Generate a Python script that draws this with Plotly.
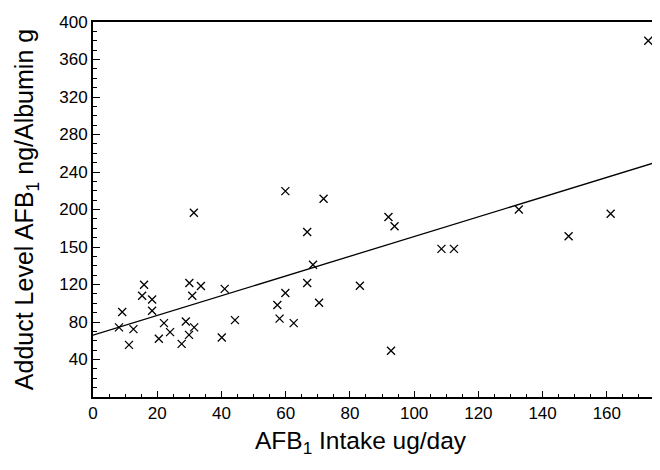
import plotly.graph_objects as go

# AFB1 intake (ug/day) and adduct level (ng/Albumin g)
intake = [8.1, 9.1, 11.2, 12.6, 15.3, 15.9, 18.4, 18.4, 20.5, 22.1,
          24.0, 27.6, 28.9, 29.9, 30.0, 30.9, 31.5, 31.4, 33.6, 40.1,
          41.0, 44.2, 57.4, 58.1, 59.9, 59.9, 62.5, 66.7, 66.7, 68.5,
          70.4, 71.8, 83.1, 92.0, 92.8, 93.9, 108.5, 112.4, 132.6, 148.1,
          161.2, 172.9]
adduct = [74.3, 90.6, 55.6, 72.4, 108, 119.8, 104, 92, 62.2, 78.8,
          69.2, 56.7, 80.5, 66.3, 121.6, 108, 74.3, 196.5, 118.4, 63.4,
          115.3, 82, 98.2, 83.6, 110.9, 219.6, 78.8, 121.6, 176, 141,
          100.5, 211.5, 118.7, 192, 49.4, 182.1, 158, 158, 200, 171.4,
          195.4, 380]

# regression line end points
fit_x = [0, 175]
fit_y = [66, 250]

# tick labels as printed on the original (note "150" at the 160 position)
y_label_alias = {"0": "", "160": "150"}

FONT = "Liberation Sans, Arial, Helvetica, sans-serif"

fig = go.Figure()
fig.add_trace(go.Scatter(
    x=fit_x, y=fit_y, mode="lines",
    line=dict(color="black", width=1.3), showlegend=False, hoverinfo="skip"))
fig.add_trace(go.Scatter(
    x=intake, y=adduct, mode="markers", cliponaxis=False,
    marker=dict(symbol="x-thin", size=8, line=dict(color="black", width=1.3)),
    showlegend=False))

fig.add_annotation(
    text="AFB<sub>1</sub> Intake ug/day", xref="paper", yref="paper",
    x=0.477, y=0, xanchor="center", yanchor="middle", yshift=-45,
    showarrow=False, font=dict(size=24.5, family=FONT, color="black"))

fig.update_layout(
    template="none",
    width=652, height=462,
    margin=dict(l=85, r=5, t=14, b=73),
    paper_bgcolor="white", plot_bgcolor="white",
    font=dict(family=FONT, color="black", size=17),
    xaxis=dict(
        range=[0, 175], tickmode="linear", tick0=0, dtick=20,
        ticks="inside", ticklen=6, tickwidth=1.3, tickcolor="black",
        minor=dict(dtick=5, ticks="inside", ticklen=3, tickcolor="black", tickwidth=1),
        showline=True, linecolor="black", linewidth=2, mirror=True,
        showgrid=False, zeroline=False, automargin=False,
        tickfont=dict(size=17),
    ),
    yaxis=dict(
        range=[0, 400], tickmode="linear", tick0=0, dtick=40,
        labelalias=y_label_alias,
        ticks="inside", ticklen=7, tickwidth=1.3, tickcolor="black",
        minor=dict(dtick=10, ticks="inside", ticklen=4, tickcolor="black", tickwidth=1),
        showline=True, linecolor="black", linewidth=2, mirror=True,
        showgrid=False, zeroline=False, automargin=False,
        tickfont=dict(size=17),
        title=dict(text="Adduct Level AFB<sub>1</sub> ng/Albumin g", font=dict(size=25), standoff=18),
    ),
)

fig.write_html("out.html")
